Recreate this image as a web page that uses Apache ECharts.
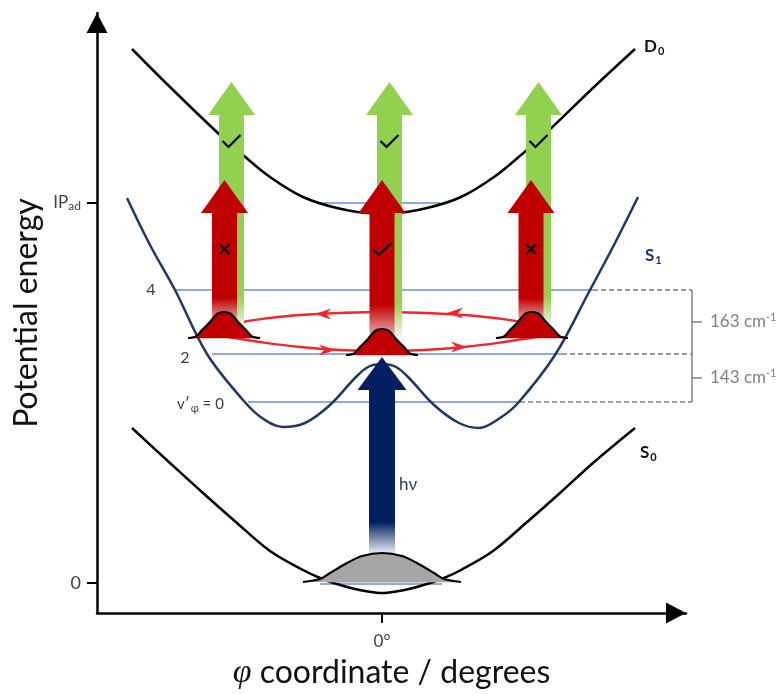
<!DOCTYPE html>
<html>
<head>
<meta charset="utf-8">
<title>Potential energy along φ</title>
<script src="https://cdn.jsdelivr.net/npm/echarts@6/dist/echarts.min.js"></script>
<style>
  html, body { margin: 0; padding: 0; background: #ffffff; }
  #chart { width: 783px; height: 694px; }
</style>
</head>
<body>
<div id="chart"></div>
<script>
// ---- potential energy curves: [φ coordinate, energy] ----
const s0Curve = [[-50,155],[-42.4,120],[-35.8,90],[-29,60],[-22.4,32],[-15.8,13],[-12.4,5],[-9,-1],[-5.8,-5.5],[-2.8,-8.5],[0,-10],
                 [2.8,-8.5],[5.8,-5.5],[9,-1],[12.4,5],[15.8,13],[22.2,32],[28.8,60],[35.6,90],[42.2,120],[50.6,155]];
const s1Curve = [[-51,385],[-46.4,338],[-41.4,293],[-35,229],[-27.8,183],[-24,165],[-19.8,156],[-15.4,160],
                 [-10.4,178],[-5.4,205],[-2.8,216],[0,219],[2.8,216],[5.4,205],[10.4,178],[15.4,160],[19.4,155],
                 [23.6,165],[27.2,180],[34.6,228],[41.6,293],[46.6,340],[51.2,386]];
const d0Curve = [[-50,534],[-42.4,496],[-32.4,448],[-27.8,428],[-22.4,406],[-15.8,386],[-9,375],[-2.4,370],[0,370],
                 [2.4,370],[9,375],[15.8,386],[22.4,406],[27.8,428],[32.4,448],[42.4,496],[50.6,534]];

// vibrational levels: [φ start, φ end, energy]
const s1Levels = [[-41.6,42.2,293],[-34,36,229],[-26.8,27.6,181]];
const d0Level = [-11.8,11.6,380];
const s0Level = [-12.4,12,-1];

// level spacing bracket
const bracketX = 62;
const bracketTicks = [261, 205];
const spacingText = ['163 cm{p|-1}', '143 cm{p|-1}'];

// axis ticks (0 and adiabatic ionisation potential)
const yTicks = [0, 380];
const xTicks = [0];

// transition arrows: [φ, tip energy, fade start, bottom]
const ionArrows = [[-30.1,501,287,250],[1.5,501,280,241],[31.3,501,287,250]];
const probeArrows = [[-31.5,403,285,251],[0,403,278,233],[29.8,403,285,251]];
const pumpArrow = [[0,226,61,27]];

// wavepackets: [φ centre, baseline energy]
const s1Packets = [[-31.6,245],[0,228],[30,245]];
const s0Packets = [[0,1]];
const s1PacketDx = [-7.2,-5.6,-4.4,-2.8,-1.4,0,1.4,2.8,4.4,5.6,7.2];
const s1PacketH  = [0,1.5,8,16,24,26,24,16,8,1.5,0];
const s0PacketDx = [-15.8,-12.4,-10.4,-7,-4,0,4,7,10.4,12.4,15.8];
const s0PacketH  = [0,3,9,19,26,29,26,19,9,3,0];

// torsional motion loop
const loopUpper = [[-29.2,257],[-27.8,261],[-22.4,265],[-16.4,268],[-8.4,270],[0,271],[8.4,270],[16.4,268],[22.4,265],[27.8,261],[29.2,257]];
const loopLower = [[-30.8,246],[-24.4,241],[-16.4,236],[-8.4,233],[0,232],[8.4,233],[16.4,236],[24.4,241],[30.8,246]];
// arrowheads on the loop: [φ, energy, direction (-1 left, 1 right)]
const loopHeads = [[-13.4,269,-1],[13,270,-1],[-9.4,233,1],[17,236,1]];

// outcome marks: [φ, energy, kind (0 tick, 1 cross)]
const outcomeMarks = [[-30.1,442,0],[1.5,442,0],[31.3,442,0],[-31.5,334,1],[0,334,0],[29.8,334,1]];

// state and level labels
const labelPos = [[52.4,536],[52.6,327],[51.6,130],[-46.2,293],[-39.4,225],[-41,179],[3.4,98]];
const labelText = ['{m|D}{s|0}', '{m|S}{s|1}', '{m|S}{s|0}', '4', '2', 'v′{s|φ} = 0', 'hν'];
const labelColor = ['#111111','#1f3864','#111111','#404040','#404040','#404040','#1f3864'];
const labelBold = [true, true, true, false, false, false, false];
const labelSize = [17, 17, 17, 16, 16, 15, 17];
const labelAlign = ['left','left','left','center','center','left','left'];

const FONT = 'Lato, "Noto Sans", sans-serif';
const LEVEL_BLUE = '#8faadc';
const GREY = '#808080';

function lineSeries(data, color, width, z, extra) {
  return Object.assign({
    type: 'line', data, z, smooth: 0.35, symbol: 'none', clip: false, silent: true,
    lineStyle: { color, width }
  }, extra || {});
}

function segment(x0, y0, x1, y1, color, width, type, z, onWide) {
  return {
    type: 'line', data: [[x0, y0], [x1, y1]], z, symbol: 'none', clip: false, silent: true,
    xAxisIndex: onWide ? 1 : 0, yAxisIndex: onWide ? 1 : 0,
    lineStyle: { color, width, type }
  };
}

function arrowSeries(data, color, shaftW, headW, headH, z) {
  return {
    type: 'custom', coordinateSystem: 'cartesian2d', z, clip: false, silent: true, data,
    renderItem(params, api) {
      const x = api.value(0);
      const tip = api.coord([x, api.value(1)]);
      const fade = api.coord([x, api.value(2)]);
      const bot = api.coord([x, api.value(3)]);
      const cx = tip[0], hb = tip[1] + headH;
      const pts = [[cx, tip[1]], [cx + headW / 2, hb], [cx + shaftW / 2, hb], [cx + shaftW / 2, bot[1]],
                   [cx - shaftW / 2, bot[1]], [cx - shaftW / 2, hb], [cx - headW / 2, hb]];
      const f = Math.min(0.999, Math.max(0, (fade[1] - tip[1]) / (bot[1] - tip[1])));
      return {
        type: 'polygon', shape: { points: pts },
        style: { fill: new echarts.graphic.LinearGradient(0, 0, 0, 1, [
          { offset: 0, color }, { offset: f, color }, { offset: 1, color: '#ffffff' }]) }
      };
    }
  };
}

function packetSeries(data, dx, h, fill, z) {
  return {
    type: 'custom', coordinateSystem: 'cartesian2d', z, clip: false, silent: true, data,
    renderItem(params, api) {
      const cx = api.value(0), base = api.value(1);
      const pts = dx.map((d, i) => api.coord([cx + d, base + h[i]]));
      return {
        type: 'group', children: [
          { type: 'polygon', shape: { points: pts, smooth: 0.3 }, style: { fill } },
          { type: 'polyline', shape: { points: pts, smooth: 0.3 }, style: { stroke: '#000000', lineWidth: 2.2, fill: null } }
        ]
      };
    }
  };
}

const series = [];

// vibrational levels
s1Levels.forEach(l => series.push(segment(l[0], l[2], l[1], l[2], LEVEL_BLUE, 2, 'solid', 1)));
series.push(segment(d0Level[0], d0Level[2], d0Level[1], d0Level[2], LEVEL_BLUE, 2, 'solid', 1));
series.push(segment(s0Level[0], s0Level[2], s0Level[1], s0Level[2], LEVEL_BLUE, 2, 'solid', 1));

// spacing bracket (on the wide overlay grid, which shares the main scale)
s1Levels.forEach(l => series.push(segment(l[1], l[2], bracketX, l[2], GREY, 1.5, [5, 3], 1, true)));
series.push(segment(bracketX, s1Levels[0][2], bracketX, s1Levels[2][2], GREY, 1.5, 'solid', 1, true));
bracketTicks.forEach(t => series.push(segment(bracketX, t, bracketX + 2, t, GREY, 1.5, 'solid', 1, true)));
series.push({
  type: 'custom', coordinateSystem: 'cartesian2d', xAxisIndex: 1, yAxisIndex: 1, z: 9, silent: true,
  data: bracketTicks.map(t => [bracketX + 3.6, t]),
  renderItem(params, api) {
    const p = api.coord([api.value(0), api.value(1)]);
    return {
      type: 'text', x: p[0], y: p[1],
      style: {
        text: spacingText[params.dataIndex], fill: GREY, fontFamily: FONT, fontSize: 17,
        align: 'left', verticalAlign: 'middle',
        rich: { p: { fontSize: 11, fill: GREY, fontFamily: FONT, padding: [0, 0, 9, 0] } }
      }
    };
  }
});

// curves
series.push(lineSeries(s0Curve, '#000000', 2.5, 3));
series.push(lineSeries(s1Curve, '#1f3864', 2.5, 3));
series.push(lineSeries(d0Curve, '#000000', 2.5, 3));

// torsional loop
series.push(lineSeries(loopUpper, '#f0282d', 2.4, 4, { smooth: 0.4 }));
series.push(lineSeries(loopLower, '#f0282d', 2.4, 4, { smooth: 0.4 }));
series.push({
  type: 'custom', coordinateSystem: 'cartesian2d', z: 4, clip: false, silent: true, data: loopHeads,
  renderItem(params, api) {
    const p = api.coord([api.value(0), api.value(1)]);
    const d = api.value(2);
    const len = 16, w = 5.5, notch = 11;
    return {
      type: 'polygon',
      shape: { points: [[p[0], p[1]], [p[0] - d * len, p[1] - w], [p[0] - d * notch, p[1]], [p[0] - d * len, p[1] + w]] },
      style: { fill: '#f0282d' }
    };
  }
});

// arrows
series.push(arrowSeries(ionArrows, '#92d050', 25, 47, 33, 5));
series.push(arrowSeries(probeArrows, '#c00000', 25, 47, 33, 6));
series.push(arrowSeries(pumpArrow, '#002060', 26, 49, 33, 6));

// wavepackets
series.push(packetSeries(s1Packets, s1PacketDx, s1PacketH, '#c00000', 7));
series.push(packetSeries(s0Packets, s0PacketDx, s0PacketH, '#a6a6a6', 7));

// tick / cross marks
series.push({
  type: 'custom', coordinateSystem: 'cartesian2d', z: 8, clip: false, silent: true, data: outcomeMarks,
  renderItem(params, api) {
    const p = api.coord([api.value(0), api.value(1)]);
    const style = { stroke: '#000000', lineWidth: 2.2, fill: null };
    if (api.value(2) === 0) {
      return { type: 'polyline', shape: { points: [[p[0] - 9, p[1]], [p[0] - 3, p[1] + 6], [p[0] + 9, p[1] - 6]] }, style };
    }
    return {
      type: 'group', children: [
        { type: 'line', shape: { x1: p[0] - 5, y1: p[1] - 5, x2: p[0] + 5, y2: p[1] + 5 }, style },
        { type: 'line', shape: { x1: p[0] - 5, y1: p[1] + 5, x2: p[0] + 5, y2: p[1] - 5 }, style }
      ]
    };
  }
});

// labels
series.push({
  type: 'custom', coordinateSystem: 'cartesian2d', z: 9, clip: false, silent: true, data: labelPos,
  renderItem(params, api) {
    const i = params.dataIndex;
    const p = api.coord([api.value(0), api.value(1)]);
    const bold = labelBold[i];
    const size = labelSize[i];
    return {
      type: 'text', x: p[0], y: p[1],
      style: {
        text: labelText[i], fill: labelColor[i], fontFamily: FONT, fontSize: size,
        fontWeight: bold ? 'bold' : 'normal', align: labelAlign[i], verticalAlign: 'middle',
        rich: {
          m: { fontSize: size, fontWeight: bold ? 'bold' : 'normal', fill: labelColor[i], fontFamily: FONT },
          s: { fontSize: 11, fontWeight: bold ? 'bold' : 'normal', fill: labelColor[i], fontFamily: FONT, padding: [9, 0, 0, 1] }
        }
      }
    };
  }
});

const chart = echarts.init(document.getElementById('chart'));
chart.setOption({
  animation: false,
  backgroundColor: '#ffffff',
  grid: [
    { left: 97, right: 97, top: 13, bottom: 81, containLabel: false, outerBoundsMode: 'none' },
    { left: 97, right: 0, top: 13, bottom: 81, containLabel: false, outerBoundsMode: 'none' }
  ],
  xAxis: [{
    type: 'value', gridIndex: 0, min: -57, max: 60.8,
    axisLine: { show: true, onZero: false, symbol: ['none', 'triangle'], symbolSize: [21, 20], symbolOffset: [0, -10],
                lineStyle: { color: '#000000', width: 2.5 } },
    axisTick: { show: true, customValues: xTicks, length: 10, lineStyle: { color: '#000000', width: 2 } },
    axisLabel: { show: true, customValues: xTicks, formatter: () => '0°', margin: 20, color: '#404040', fontSize: 17, fontFamily: FONT },
    splitLine: { show: false },
    name: '{phi|φ}{t| coordinate / degrees}', nameLocation: 'middle', nameGap: 43,
    nameTextStyle: {
      rich: {
        phi: { fontFamily: '"Liberation Serif", "DejaVu Serif", serif', fontStyle: 'italic', fontSize: 34, color: '#111111' },
        t: { fontFamily: FONT, fontSize: 32, color: '#111111' }
      }
    }
  }, {
    // overlay axis extending the same scale to the right edge
    type: 'value', gridIndex: 1, min: -57, max: 80.2, show: false
  }],
  yAxis: [{
    type: 'value', gridIndex: 0, min: -30, max: 570,
    axisLine: { show: true, onZero: false, symbol: ['none', 'triangle'], symbolSize: [21, 20], symbolOffset: [0, -10],
                lineStyle: { color: '#000000', width: 2.5 } },
    axisTick: { show: true, customValues: yTicks, length: 10, lineStyle: { color: '#000000', width: 2 } },
    axisLabel: {
      show: true, customValues: yTicks, margin: 16, color: '#404040', fontSize: 18, fontFamily: FONT,
      formatter: v => (v === 0 ? '0' : '{ip|IP}{ad|ad}'),
      rich: {
        ip: { fontSize: 17, color: '#404040', fontFamily: FONT },
        ad: { fontSize: 12, color: '#404040', fontFamily: FONT, padding: [7, 0, 0, 0] }
      }
    },
    splitLine: { show: false },
    name: 'Potential energy', nameLocation: 'middle', nameGap: 53,
    nameTextStyle: { fontFamily: FONT, fontSize: 32, color: '#111111' }
  }, {
    type: 'value', gridIndex: 1, min: -30, max: 570, show: false
  }],
  series
});
</script>
</body>
</html>
